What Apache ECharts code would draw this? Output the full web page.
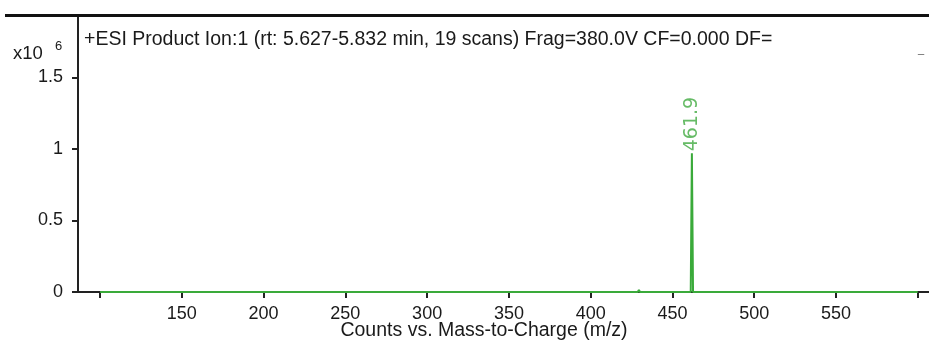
<!DOCTYPE html>
<html>
<head>
<meta charset="utf-8">
<script src="https://cdn.jsdelivr.net/npm/echarts@6/dist/echarts.min.js"></script>
<style>
html,body{margin:0;padding:0;background:#fff;}
#c{width:929px;height:342px;}
</style>
</head>
<body>
<div id="c"></div>
<script>
// Data
const mzValues = [100, 428.8, 429.5, 430.2, 461.2, 461.9, 462.6, 600];
const intensityValues = [0, 0, 15000, 0, 0, 970000, 0, 0];
const peakLabels = ['', '', '', '', '', '461.9', '', ''];
const xTickValues = [100, 150, 200, 250, 300, 350, 400, 450, 500, 550, 600];
const xLabelValues = [150, 200, 250, 300, 350, 400, 450, 500, 550];
const yTickValues = [0, 500000, 1000000, 1500000];
const titleText = '+ESI Product Ion:1 (rt: 5.627-5.832 min, 19 scans) Frag=380.0V CF=0.000 DF=';
const xAxisTitle = 'Counts vs. Mass-to-Charge (m/z)';

const FONT = '"Liberation Sans", Arial, sans-serif';
const TXT = '#1a1a1a';

const seriesData = mzValues.map((m, i) => {
  const item = { value: [m, intensityValues[i]] };
  if (peakLabels[i]) {
    item.label = {
      show: true,
      formatter: peakLabels[i],
      position: 'top',
      rotate: 90,
      align: 'left',
      verticalAlign: 'middle',
      distance: 2,
      color: '#66bb66',
      fontSize: 19,
      fontFamily: '"DejaVu Sans", sans-serif'
    };
  }
  return item;
});

const chart = echarts.init(document.getElementById('c'), null, { renderer: 'canvas' });
chart.setOption({
  animation: false,
  backgroundColor: '#fff',
  grid: { left: 78, right: 0, top: 16, bottom: 50, containLabel: false },
  xAxis: {
    type: 'value',
    min: 86.5,
    max: 606.9,
    axisLine: { show: true, lineStyle: { color: '#222', width: 2 } },
    axisTick: { show: true, customValues: xTickValues, length: 6, lineStyle: { color: '#222', width: 2 } },
    axisLabel: { customValues: xLabelValues, margin: 13, color: TXT, fontSize: 18, fontFamily: FONT },
    splitLine: { show: false }
  },
  yAxis: {
    type: 'value',
    min: 0,
    max: 1930000,
    axisLine: { show: true, lineStyle: { color: '#222', width: 2 } },
    axisTick: { show: true, customValues: yTickValues, length: 6, lineStyle: { color: '#222', width: 2 } },
    axisLabel: {
      customValues: yTickValues, margin: 15, color: TXT, fontSize: 18, fontFamily: FONT,
      formatter: v => String(v / 1000000)
    },
    splitLine: { show: false }
  },
  series: [{
    type: 'line',
    data: seriesData,
    symbol: 'circle',
    symbolSize: 0,
    showSymbol: true,
    showAllSymbol: true,
    itemStyle: { color: '#3aaa3a' },
    lineStyle: { color: '#3aaa3a', width: 2 },
    z: 5
  }],
  graphic: [
    { type: 'rect', shape: { x: 5, y: 14, width: 924, height: 3 }, style: { fill: '#111' }, z: 100 },
    { type: 'text', x: 84, y: 40, style: { text: titleText, fill: TXT, font: '19.5px ' + FONT, textVerticalAlign: 'middle' }, z: 100 },
    { type: 'text', x: 918, y: 50, style: { text: '_', fill: '#555', font: '11px ' + FONT, textVerticalAlign: 'middle' }, z: 100 },
    { type: 'text', x: 13, y: 54, style: { text: 'x10', fill: TXT, font: '18.5px ' + FONT, textVerticalAlign: 'middle' }, z: 100 },
    { type: 'text', x: 55, y: 46, style: { text: '6', fill: TXT, font: '13px ' + FONT, textVerticalAlign: 'middle' }, z: 100 },
    { type: 'text', x: 484, y: 331, style: { text: xAxisTitle, fill: TXT, font: '19.5px ' + FONT, textAlign: 'center', textVerticalAlign: 'middle' }, z: 100 }
  ]
});
</script>
</body>
</html>
